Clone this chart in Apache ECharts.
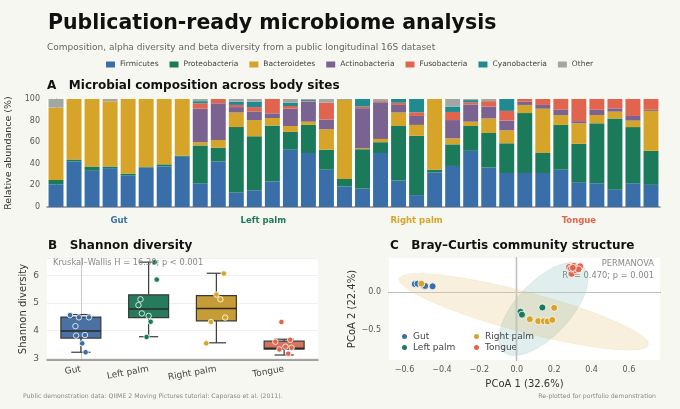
<!DOCTYPE html>
<html><head><meta charset="utf-8">
<script src="https://cdn.jsdelivr.net/npm/echarts@6/dist/echarts.min.js"></script>
<style>html,body{margin:0;padding:0;background:#f7f7f2;}#c{width:680px;height:409px;}</style>
</head><body><div id="c"></div>
<script>
// ---------- data ----------
const phyla = ['Firmicutes','Proteobacteria','Bacteroidetes','Actinobacteria','Fusobacteria','Cyanobacteria','Other'];
const phylumColors = ['#3a6ea8','#1b7a5a','#d6a428','#7a6391','#e0644e','#1f8a8f','#a2a7a2'];
const sites = ['Gut','Left palm','Right palm','Tongue'];
const siteColors = ['#3a6ea8','#1b7a5a','#d6a428','#e0644e'];
const boxColors = ['#4a70a4','#267b5d','#c69c36','#d4735e'];
const samples = ['G1','G2','G3','G4','G5','G6','G7','G8',
  'L1','L2','L3','L4','L5','L6','L7','L8',
  'R1','R2','R3','R4','R5','R6','R7','R8','R9',
  'T1','T2','T3','T4','T5','T6','T7','T8','T9'];
const sampleSite = [0,0,0,0,0,0,0,0, 1,1,1,1,1,1,1,1, 2,2,2,2,2,2,2,2,2, 3,3,3,3,3,3,3,3,3];
const firmicutes     = [21,42,33.5,36,29,36.5,37.5,46.5, 22,42,13.5,15.5,23.7,53,50,34.5, 19,17,50,24.5,11,32,38,52,36.5, 31.5,31.5,31.5,34.5,23,22,16,22,20.5];
const proteobacteria = [4,2,4,1.5,2,0.5,2,1, 35,13,60.5,50,51.7,16.5,26,18.5, 7,36.5,10,50.5,55,2.5,20,23,32, 27.5,55.5,18.5,41.5,35.5,55.5,66,52,31.5];
const bacteroidetes  = [67,56,62.5,60.5,69,63,60.5,52.5, 3,7,13.5,15,7,5.5,3,19, 73,1,3,12.5,10,65.5,5.5,4,13.5, 12,7.5,41,9,19,7.7,6.3,6,37];
const actinobacteria = [0,0,0,0,0,0,0,0, 31,34,5,8,4.3,16,18.5,9, 0,37,34,7,8.3,0,17,16,11, 9,3,3.5,5,2,4.8,3,4.3,1];
const fusobacteria   = [0,0,0,0,0,0,0,0, 5,4,2,4,13.3,2.5,0.5,15.5, 0,1.5,1,2,3.4,0,7.5,2,5, 9,2.5,5.5,10,20.5,10,8.7,15.7,10];
const cyanobacteria  = [0,0,0,0,0,0,0,0, 2,0,3,5,0,3,1,0, 0,7,0,3.5,12.3,0,5,2,0, 11,0,0,0,0,0,0,0,0];
const otherTaxa      = [8,0,0,2,0,0,0,0, 2,0,2.5,2.5,0,3.5,1,3.5, 1,0,2,0,0,0,7,1,2, 0,0,0,0,0,0,0,0,0];
const abundance = [firmicutes, proteobacteria, bacteroidetes, actinobacteria, fusobacteria, cyanobacteria, otherTaxa];

// Shannon diversity: [min, Q1, median, Q3, max]
const shannonBox = [[3.22,3.73,3.99,4.49,4.58],[3.78,4.47,4.78,5.29,6.47],[3.56,4.35,4.80,5.26,6.07],[3.12,3.33,3.36,3.62,3.69]];
const gutShannon = [4.56,4.48,4.48,4.16,3.82,3.84,3.54,3.22];
const gutJitter  = [-0.16,-0.03,0.12,-0.08,-0.07,0.06,0.02,0.07];
const leftShannon = [6.47,5.84,5.13,4.92,4.62,4.53,4.32,3.77];
const leftJitter  = [0.09,0.12,-0.12,-0.15,-0.10,0.00,0.03,-0.03];
const rightShannon = [6.06,5.30,5.13,4.47,4.31,3.54];
const rightJitter  = [0.11,0.00,0.06,0.13,-0.08,-0.15];
const tongueShannon = [4.31,3.67,3.60,3.42,3.38,3.32,3.17];
const tongueJitter  = [-0.04,0.09,-0.13,0.02,0.11,-0.07,0.06];

// PCoA coordinates
const gutPC1 = [-0.545,-0.53,-0.50,-0.49,-0.45];
const gutPC2 = [0.105,0.11,0.09,0.08,0.075];
const leftPC1 = [0.020,0.028,0.137,0.140];
const leftPC2 = [-0.26,-0.30,-0.205,-0.39];
const rightPC1 = [-0.51,0.20,0.07,0.115,0.145,0.165,0.19];
const rightPC2 = [0.11,-0.21,-0.36,-0.385,-0.385,-0.39,-0.37];
const tonguePC1 = [0.28,0.294,0.306,0.324,0.339,0.317,0.29,0.33,0.30];
const tonguePC2 = [0.33,0.24,0.345,0.32,0.34,0.285,0.31,0.30,0.32];
// confidence ellipses: [centerX, centerY, axis1X, axis1Y, axis2X, axis2Y, site]
const ellipses = [[0.142,-0.224,0.214,0.564,0.105,-0.246,1],[0.038,-0.262,0.666,-0.438,-0.027,-0.256,2]];
const ellipseFills = {1:'rgba(46,140,140,0.15)', 2:'rgba(214,164,40,0.16)'};

// ---------- chart ----------
const FONT = 'DejaVu Sans';
const chart = echarts.init(document.getElementById('c'));

const siteCenters = sites.map((s, k) => {
  const idx = sampleSite.map((v, i) => v === k ? i : -1).filter(i => i >= 0);
  return idx.reduce((a, b) => a + b, 0) / idx.length;
});
const rich = {};
sites.forEach((s, k) => { rich['g' + k] = {color: siteColors[k], fontWeight: 'bold', fontSize: 8.5, fontFamily: FONT}; });

const barSeries = phyla.map((p, k) => ({
  name: p, type: 'bar', stack: 'comp', xAxisIndex: 0, yAxisIndex: 0,
  barWidth: '83%', data: abundance[k], itemStyle: {color: phylumColors[k]}, emphasis: {disabled: true}
}));

function jitterData(vals, jit, k) { return vals.map((v, i) => [k + jit[i], v, k]); }
const shannonPts = [].concat(jitterData(gutShannon, gutJitter, 0), jitterData(leftShannon, leftJitter, 1),
  jitterData(rightShannon, rightJitter, 2), jitterData(tongueShannon, tongueJitter, 3));

function pcData(xs, ys) { return xs.map((x, i) => [x, ys[i]]); }
const pcSets = [pcData(gutPC1, gutPC2), pcData(leftPC1, leftPC2), pcData(rightPC1, rightPC2), pcData(tonguePC1, tonguePC2)];

const minusFmt = v => (v < -1e-9 ? '\u2212' : '') + Math.abs(v).toFixed(1);

const axisTitle = {fontFamily: FONT, fontSize: 10, color: '#333'};
const tickLbl = {fontFamily: FONT, fontSize: 8, color: '#555'};

const option = {
  backgroundColor: '#f7f7f2',
  animation: false,
  textStyle: {fontFamily: FONT},
  title: [
    {text: 'Publication-ready microbiome analysis', left: 48, top: 13, padding: 0, textStyle: {fontFamily: FONT, fontSize: 20.5, fontWeight: 'bold', color: '#111'}},
    {text: 'Composition, alpha diversity and beta diversity from a public longitudinal 16S dataset', left: 47, top: 43, padding: 0, textStyle: {fontFamily: FONT, fontSize: 9, color: '#666', fontWeight: 'normal'}},
    {text: 'A   Microbial composition across body sites', left: 47, top: 80, padding: 0, textStyle: {fontFamily: FONT, fontSize: 12, fontWeight: 'bold', color: '#111'}},
    {text: 'B   Shannon diversity', left: 48, top: 240, padding: 0, textStyle: {fontFamily: FONT, fontSize: 12, fontWeight: 'bold', color: '#111'}},
    {text: 'C   Bray\u2013Curtis community structure', left: 390, top: 240, padding: 0, textStyle: {fontFamily: FONT, fontSize: 12, fontWeight: 'bold', color: '#111'}},
    {text: 'Kruskal\u2013Wallis H = 16.30; p < 0.001', left: 53, top: 259, padding: 0, textStyle: {fontFamily: FONT, fontSize: 8.3, color: '#888', fontWeight: 'normal'}},
    {text: 'PERMANOVA', right: 26, top: 260, padding: 0, textStyle: {fontFamily: FONT, fontSize: 8.3, color: '#888', fontWeight: 'normal'}},
    {text: 'R\u00b2 = 0.470; p = 0.001', right: 26, top: 272, padding: 0, textStyle: {fontFamily: FONT, fontSize: 8.3, color: '#888', fontWeight: 'normal'}},
    {text: 'Public demonstration data: QIIME 2 Moving Pictures tutorial: Caporaso et al. (2011).', left: 23, top: 393, padding: 0, textStyle: {fontFamily: FONT, fontSize: 6.2, color: '#888', fontWeight: 'normal'}},
    {text: 'Re-plotted for portfolio demonstration', right: 24, top: 393, padding: 0, textStyle: {fontFamily: FONT, fontSize: 6.2, color: '#888', fontWeight: 'normal'}}
  ],
  legend: [
    {data: phyla, left: 106, top: 60.5, padding: 0, itemGap: 11, itemWidth: 9, itemHeight: 6, icon: 'rect',
     textStyle: {fontFamily: FONT, fontSize: 7.5, color: '#444'}, selectedMode: false},
    {data: ['Gut','Left palm'], orient: 'vertical', left: 400, top: 332, padding: 0, itemGap: 2, itemWidth: 7, itemHeight: 7, icon: 'circle',
     textStyle: {fontFamily: FONT, fontSize: 9, color: '#444'}, selectedMode: false},
    {data: ['Right palm','Tongue'], orient: 'vertical', left: 472, top: 332, padding: 0, itemGap: 2, itemWidth: 7, itemHeight: 7, icon: 'circle',
     textStyle: {fontFamily: FONT, fontSize: 9, color: '#444'}, selectedMode: false}
  ],
  grid: [
    {left: 47, top: 99, width: 613, height: 108, show: true, backgroundColor: '#ffffff', borderWidth: 0, outerBoundsMode: 'none'},
    {left: 47, top: 258, width: 271, height: 102, show: true, backgroundColor: '#ffffff', borderWidth: 0, outerBoundsMode: 'none'},
    {left: 389, top: 258, width: 271, height: 102, show: true, backgroundColor: '#ffffff', borderWidth: 0, outerBoundsMode: 'none'}
  ],
  xAxis: [
    {type: 'category', gridIndex: 0, data: samples, position: 'bottom', boundaryGap: true,
     axisLine: {lineStyle: {color: '#888', width: 1.5}}, axisTick: {show: false}, axisLabel: {show: false}, splitLine: {show: false}},
    {type: 'value', gridIndex: 0, position: 'bottom', min: -0.5, max: samples.length - 0.5,
     axisLine: {show: false}, axisTick: {show: false}, splitLine: {show: false},
     axisLabel: {customValues: siteCenters, margin: 9, formatter: v => {
       let k = 0, best = 1e9; siteCenters.forEach((c, i) => { if (Math.abs(c - v) < best) { best = Math.abs(c - v); k = i; } });
       return '{g' + k + '|' + sites[k] + '}'; }, rich: rich}},
    {type: 'category', gridIndex: 1, data: sites, boundaryGap: true,
     axisLine: {lineStyle: {color: '#888', width: 1.5}}, axisTick: {show: false},
     axisLabel: {rotate: 10, fontFamily: FONT, fontSize: 9, color: '#444', margin: 9}},
    {type: 'value', gridIndex: 1, min: -0.5, max: 3.5, show: false},
    {type: 'value', gridIndex: 2, min: -0.683, max: 0.766, minInterval: 0.2, maxInterval: 0.2,
     axisLine: {lineStyle: {color: '#555', width: 1.2}}, axisTick: {show: false}, splitLine: {show: false},
     axisLabel: Object.assign({}, tickLbl, {formatter: minusFmt, showMinLabel: false, showMaxLabel: false, margin: 6}),
     name: 'PCoA 1 (32.6%)', nameLocation: 'middle', nameGap: 19, nameTextStyle: axisTitle}
  ],
  yAxis: [
    {type: 'value', gridIndex: 0, min: 0, max: 100, interval: 20,
     axisLine: {show: true, lineStyle: {color: '#999', width: 1}}, axisTick: {show: false}, splitLine: {show: false},
     axisLabel: Object.assign({}, tickLbl, {margin: 7}),
     name: 'Relative abundance (%)', nameLocation: 'middle', nameGap: 28, nameTextStyle: Object.assign({}, axisTitle, {fontSize: 9.5})},
    {type: 'value', gridIndex: 1, min: 2.94, max: 6.62, minInterval: 1, maxInterval: 1,
     axisLine: {show: true, lineStyle: {color: '#c8c8c8', width: 1}}, axisTick: {show: false},
     splitLine: {lineStyle: {color: '#ececec', width: 0.8}},
     axisLabel: Object.assign({}, tickLbl, {fontSize: 9, showMinLabel: false, showMaxLabel: false, margin: 8}),
     name: 'Shannon diversity', nameLocation: 'middle', nameGap: 19, nameTextStyle: axisTitle},
    {type: 'value', gridIndex: 2, min: -0.9, max: 0.45, minInterval: 0.5, maxInterval: 0.5,
     axisLine: {show: true, lineStyle: {color: '#555', width: 1.2}}, axisTick: {show: false}, splitLine: {show: false},
     axisLabel: Object.assign({}, tickLbl, {formatter: minusFmt, showMinLabel: false, showMaxLabel: false, margin: 8}),
     name: 'PCoA 2 (22.4%)', nameLocation: 'middle', nameGap: 32, nameTextStyle: axisTitle}
  ],
  series: barSeries.concat([
    {name: 'Shannon boxes', type: 'custom', xAxisIndex: 2, yAxisIndex: 1, z: 3,
     data: shannonBox.map((b, k) => [k].concat(b)), encode: {x: 0, y: [1, 2, 3, 4, 5]},
     renderItem: (params, api) => {
       const k = api.value(0);
       const lo = api.coord([k, api.value(1)]), q1 = api.coord([k, api.value(2)]), md = api.coord([k, api.value(3)]);
       const q3 = api.coord([k, api.value(4)]), hi = api.coord([k, api.value(5)]);
       const bw = api.size([1, 0])[0] * 0.59, cap = bw * 0.48, x = lo[0];
       const st = {stroke: '#3a3a3a', lineWidth: 1.2};
       return {type: 'group', children: [
         {type: 'line', shape: {x1: x, y1: lo[1], x2: x, y2: q1[1]}, style: st},
         {type: 'line', shape: {x1: x, y1: q3[1], x2: x, y2: hi[1]}, style: st},
         {type: 'line', shape: {x1: x - cap / 2, y1: lo[1], x2: x + cap / 2, y2: lo[1]}, style: st},
         {type: 'line', shape: {x1: x - cap / 2, y1: hi[1], x2: x + cap / 2, y2: hi[1]}, style: st},
         {type: 'rect', shape: {x: x - bw / 2, y: q3[1], width: bw, height: q1[1] - q3[1]},
          style: {fill: boxColors[k], stroke: '#3a3a3a', lineWidth: 1.2}},
         {type: 'line', shape: {x1: x - bw / 2, y1: md[1], x2: x + bw / 2, y2: md[1]}, style: {stroke: '#2a2a2a', lineWidth: 1.5}}
       ]};
     }},
    {name: 'Shannon points', type: 'scatter', xAxisIndex: 3, yAxisIndex: 1, z: 5, symbolSize: 5.5,
     data: shannonPts, itemStyle: {color: p => siteColors[p.data[2]], borderColor: '#fff', borderWidth: 0.8, opacity: 1}},
    {name: 'Ellipses', type: 'custom', xAxisIndex: 4, yAxisIndex: 2, z: 1, clip: true,
     data: ellipses, encode: {x: 0, y: 1},
     renderItem: (params, api) => {
       const cx = api.value(0), cy = api.value(1), ax = api.value(2), ay = api.value(3), bx = api.value(4), by = api.value(5);
       const pts = [];
       for (let i = 0; i < 96; i++) {
         const t = i / 96 * Math.PI * 2;
         pts.push(api.coord([cx + ax * Math.cos(t) + bx * Math.sin(t), cy + ay * Math.cos(t) + by * Math.sin(t)]));
       }
       const s = api.value(6);
       return {type: 'polygon', shape: {points: pts}, style: {fill: ellipseFills[s], stroke: echarts.color.modifyAlpha(siteColors[s], 0.12), lineWidth: 0.8}};
     }}
  ]).concat(sites.map((s, k) => ({
    name: s, type: 'scatter', xAxisIndex: 4, yAxisIndex: 2, z: 4, symbolSize: 7,
    data: pcSets[k], itemStyle: {color: siteColors[k], borderColor: '#fff', borderWidth: 0.8, opacity: 1},
    markLine: k === 0 ? {silent: true, symbol: 'none', label: {show: false}, lineStyle: {color: '#dcdcdc', width: 0.8, type: 'solid'},
      data: [{xAxis: 0}, {yAxis: 0}]} : undefined
  })))
};
chart.setOption(option);
</script>
</body></html>
